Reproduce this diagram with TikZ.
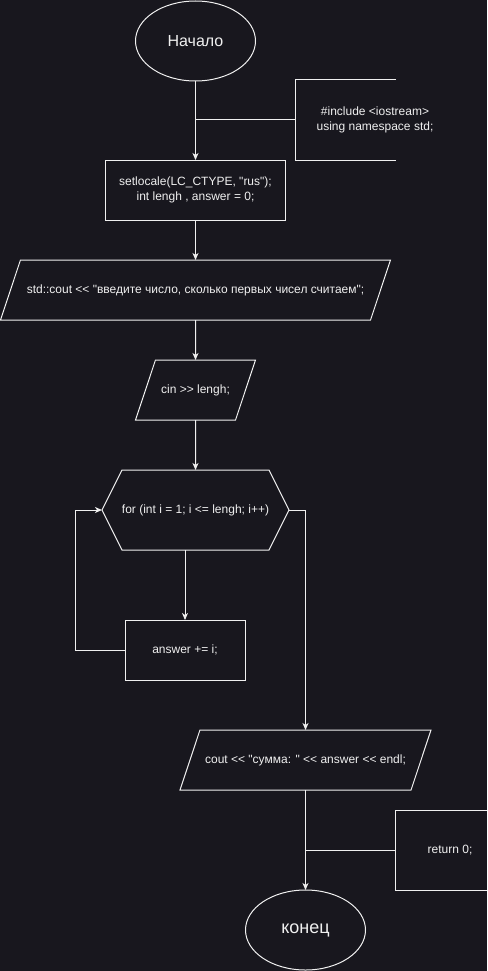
\documentclass[tikz,border=0pt]{standalone}
\usepackage{fontspec}
\setmainfont{Liberation Sans}[Ligatures=TeXOff]
\usetikzlibrary{shapes.geometric,shapes.symbols,arrows.meta,calc}
\definecolor{bg}{HTML}{18171E}
\definecolor{fg}{HTML}{F0F0F0}
\tikzset{
  block/.style={draw=fg,line width=1pt,text=fg,align=center,inner sep=0pt,outer sep=0pt,font=\fontsize{12}{14.5}\selectfont},
  term/.style={block,ellipse,minimum width=120pt,minimum height=80pt,font=\fontsize{16}{19}\selectfont},
  proc/.style={block,rectangle,minimum height=60pt},
  io/.style={block,trapezium,trapezium left angle=71.6,trapezium right angle=108.4,trapezium stretches body,text height=9pt,text depth=3pt,inner ysep=24pt},
  loopbox/.style={block,signal,signal to=west and east,signal pointer angle=126.9,minimum width=181pt,minimum height=80pt},
  note/.style={block,draw=none,minimum height=80pt},
  arr/.style={fg,line width=1pt,-{Stealth[length=7pt,width=6pt,inset=2pt]}},
  wire/.style={fg,line width=1pt},
}
\begin{document}
\begin{tikzpicture}[x=1pt,y=-1pt]
            %%% BACKGROUND %%%
            \fill[bg] (0,0) rectangle (487,971);
            \useasboundingbox (0,0) rectangle (487,971);

            %%% BLOCKS %%%
            \node[term] (start) at (195.5,41) {Начало};
            \node[proc,minimum width=180pt] (init) at (195.5,190) {setlocale(LC\_CTYPE, "rus");\\int lengh , answer = 0;};
            \node[io,minimum width=390pt] (ask) at (195.5,290) {std::cout << "введите число, сколько первых чисел считаем";};
            \node[io,minimum width=120pt] (read) at (195.5,390) {cin >> lengh;};
            \node[loopbox] (loop) at (195.5,510) {for (int i = 1; i <= lengh; i++)};
            \node[proc,minimum width=120pt] (body) at (185,650) {answer += i;};
            \node[io,minimum width=251pt] (show) at (305.5,760) {cout << "сумма: " << answer << endl;};
            \node[term,font=\fontsize{18}{21}\selectfont] (fin) at (305.5,930) {конец};

            %%% NOTES %%%
            \node[note,minimum width=160pt] (inc) at (375,120) {\#include <iostream>\\using namespace std;};
            \draw[wire] ($(inc.north west)+(101,0)$) -- (inc.north west) -- (inc.south west) -- ($(inc.south west)+(101,0)$);
            \node[note,minimum width=110pt] (ret) at (450,850) {return 0;};
            \draw[wire] ($(ret.north west)+(92,0)$) -- (ret.north west) -- (ret.south west) -- ($(ret.south west)+(92,0)$);

            %%% CONNECTORS %%%
            \draw[arr] (start) -- (init);
            \draw[wire] (inc.west) -- (inc.west -| start);
            \draw[arr] (init) -- (ask);
            \draw[arr] (ask) -- (read);
            \draw[arr] (read) -- (loop);
            \draw[arr] (loop.south -| body) -- (body);
            \draw[arr] (body.west) -- ++(-50,0) |- (loop.west);
            \draw[arr] (loop.east) -| (show.north);
            \draw[arr] (show) -- (fin);
            \draw[wire] (ret.west) -- (ret.west -| fin);
\end{tikzpicture}
\end{document}
